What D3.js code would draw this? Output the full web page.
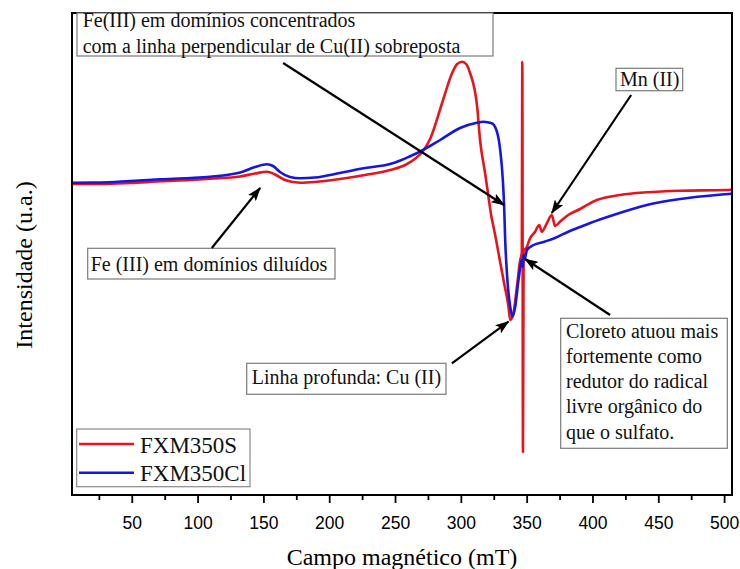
<!DOCTYPE html>
<html>
<head>
<meta charset="utf-8">
<script src="https://cdn.jsdelivr.net/npm/d3@7"></script>
<style>
  body { margin: 0; background: #fff; }
  svg { display: block; }
</style>
</head>
<body>
<div id="chart"></div>
<script>
/* EPR spectra, FXM350S vs FXM350Cl, with annotations. */
const seriesNames = ["FXM350S", "FXM350Cl"];

// campo magnético (mT) / intensidade (u.a.)
const fieldS = [4.6, 25.9, 48.7, 71.5, 94.3, 109.5, 132.3, 143.7, 152.8, 158.9, 166.5, 177.9, 189.2, 208.2,
  227.2, 246.2, 257.7, 265, 270, 276.7, 286.5, 293.4, 297.2, 301, 304, 307, 312.4, 314.6, 318.4, 321, 323,
  324.8, 326.8, 328.6, 332.4, 336.2, 337.5, 340, 342.6, 345.1, 346.3, 346.7, 347.2, 347.7, 349.6, 352.6,
  356.4, 359.6, 361.5, 365.3, 369.1, 371.6, 375.3, 381.6, 390.6, 403.3, 421, 441.3, 466.6, 500.8, 505.4];
const intS = [311, 311, 312, 313.7, 315, 316.3, 318.5, 321.5, 323.3, 320.5, 315, 312.3, 313, 316,
  320, 325, 330, 336, 342, 356, 395, 422, 431, 433.3, 431, 422, 388.3, 355, 322, 298.3, 280,
  268.3, 255, 242, 215, 188.3, 175, 182, 208.3, 235, 242, 433, 43, 245, 246.7, 256.7,
  263.3, 270, 263.3, 271.7, 280, 269, 273.3, 280, 286, 295, 300, 302.7, 304.3, 305, 305.3];

const fieldCl = [4.6, 25.9, 48.7, 71.5, 94.3, 109.5, 132.3, 143.7, 152.8, 157.3, 162.6, 170.2, 177.9, 189.2,
  208.2, 227.2, 246.2, 254, 261, 269.1, 284.3, 299.4, 312.1, 317.2, 323.5, 327.4, 329.9, 331.9, 332.9, 333.7,
  335, 337.5, 339.2, 341.3, 343.8, 346.4, 347, 347.6, 348.5, 350.2, 355.2, 363.5, 371.1, 381.6, 390.6,
  398.3, 416, 441.3, 466.6, 500.8, 505.4];
const intCl = [312.3, 312.5, 314, 315.7, 317, 318.3, 322.5, 328, 330.7, 329, 323, 318, 316.7, 317.5,
  322, 327, 331, 334.5, 338.5, 343.5, 355, 367, 372.3, 373.3, 371.7, 363.3, 345, 315, 288.3, 255,
  222, 188.3, 178.3, 188.3, 215, 235, 228, 240, 236, 245, 250, 253.3, 256.7, 263.3, 268,
  272, 280, 290, 296, 300.7, 301.2];

const xTicks = [50, 100, 150, 200, 250, 300, 350, 400, 450, 500];
const xMinor = [25, 75, 125, 175, 225, 275, 325, 375, 425, 475];

const noteTexts = [
  ["Fe(III) em domínios concentrados", "com a linha perpendicular de Cu(II) sobreposta"],
  ["Fe (III) em domínios diluídos"],
  ["Linha profunda: Cu (II)"],
  ["Cloreto atuou mais", "fortemente como", "redutor do radical", "livre orgânico do", "que o sulfato."],
  ["Mn (II)"]
];
// arrow start / tip in data units [mT, u.a.]
const arrowFrom = [[165, 432], [110.8, 247], [293.2, 131.7], [413.4, 180], [429.4, 400]];
const arrowTo = [[332.9, 290], [147.5, 307], [336.2, 173.3], [348.8, 236], [369.1, 282]];

(function () {
  const W = 740, Ht = 569;
  const m = { t: 13, r: 8, b: 74, l: 72 };
  const red = "#e8141c", blue = "#1616e0";
  const serif = "'Liberation Serif', 'Times New Roman', serif";
  const sans = "'Liberation Sans', Arial, sans-serif";

  const svg = d3.select("#chart").append("svg")
    .attr("width", W).attr("height", Ht).attr("viewBox", `0 0 ${W} ${Ht}`);

  const x = d3.scaleLinear().domain([4.6, 506]).range([m.l, W - m.r]);
  const y = d3.scaleLinear().domain([0, 482]).range([Ht - m.b, m.t]);

  svg.append("defs").append("marker")
    .attr("id", "arrow").attr("viewBox", "0 0 14 10")
    .attr("markerUnits", "userSpaceOnUse")
    .attr("markerWidth", 14).attr("markerHeight", 10)
    .attr("refX", 13).attr("refY", 5).attr("orient", "auto")
    .append("path").attr("d", "M0,0 L14,5 L0,10 L3,5 z").attr("fill", "#000");

  // curves
  const line = d3.line().x(d => x(d[0])).y(d => y(d[1])).curve(d3.curveMonotoneX);
  const sData = fieldS.map((f, i) => [f, intS[i]]);
  const clData = fieldCl.map((f, i) => [f, intCl[i]]);
  const plot = svg.append("g");
  plot.append("path").datum(sData).attr("d", line)
    .attr("fill", "none").attr("stroke", red).attr("stroke-width", 2.6).attr("stroke-linejoin", "round");
  plot.append("path").datum(clData).attr("d", line)
    .attr("fill", "none").attr("stroke", blue).attr("stroke-width", 2.6).attr("stroke-linejoin", "round");

  // frame
  svg.append("rect")
    .attr("x", x.range()[0]).attr("y", y.range()[1])
    .attr("width", x.range()[1] - x.range()[0]).attr("height", y.range()[0] - y.range()[1])
    .attr("fill", "none").attr("stroke", "#000").attr("stroke-width", 2);

  // bottom axis
  const xa = svg.append("g").attr("transform", `translate(0,${Ht - m.b})`)
    .call(d3.axisBottom(x).tickValues(xTicks).tickSize(8).tickPadding(14));
  xa.select(".domain").remove();
  xa.selectAll(".tick line").attr("stroke", "#000").attr("stroke-width", 1.8);
  xa.selectAll(".tick text").attr("fill", "#000").style("font-family", sans).style("font-size", "17.5px");
  const xm = svg.append("g").attr("transform", `translate(0,${Ht - m.b})`)
    .call(d3.axisBottom(x).tickValues(xMinor).tickSize(5).tickFormat(""));
  xm.select(".domain").remove();
  xm.selectAll(".tick line").attr("stroke", "#000").attr("stroke-width", 1.8);

  // axis titles
  svg.append("text").attr("x", (x.range()[0] + x.range()[1]) / 2).attr("y", 565)
    .attr("text-anchor", "middle").style("font-family", serif).style("font-size", "24px")
    .text("Campo magnético (mT)");
  svg.append("text").attr("transform", "translate(32,265) rotate(-90)")
    .attr("text-anchor", "middle").style("font-family", serif).style("font-size", "24px")
    .text("Intensidade (u.a.)");

  // annotation boxes (layout in px)
  const boxes = [
    { x0: 77, y0: 13, x1: 493, y1: 56, tx: 82.7, by: 27, lh: 26.3 },
    { x0: 87.7, y0: 248.3, x1: 335, y1: 279, tx: 90.7, by: 270.5, lh: 0 },
    { x0: 246.7, y0: 363.3, x1: 446, y1: 394.3, tx: 251.7, by: 384, lh: 0 },
    { x0: 560.7, y0: 318.3, x1: 727.3, y1: 448.3, tx: 566, by: 337.5, lh: 25.3 },
    { x0: 616, y0: 68.3, x1: 682.7, y1: 90.7, tx: 620, by: 86, lh: 0 }
  ];
  const notes = svg.append("g");
  noteTexts.forEach((lines, i) => {
    const b = boxes[i];
    notes.append("rect").attr("x", b.x0).attr("y", b.y0)
      .attr("width", b.x1 - b.x0).attr("height", b.y1 - b.y0)
      .attr("fill", "#fff").attr("stroke", "#7a7a7a").attr("stroke-width", 1.2);
    notes.selectAll(null).data(lines).join("text")
      .attr("x", b.tx).attr("y", (d, j) => b.by + j * b.lh)
      .style("font-family", serif).style("font-size", "20px").attr("fill", "#111")
      .text(d => d);
  });
  notes.selectAll("line.arrow").data(arrowFrom).join("line").attr("class", "arrow")
    .attr("x1", d => x(d[0])).attr("y1", d => y(d[1]))
    .attr("x2", (d, i) => x(arrowTo[i][0])).attr("y2", (d, i) => y(arrowTo[i][1]))
    .attr("stroke", "#000").attr("stroke-width", 2.2).attr("marker-end", "url(#arrow)");

  // legend
  const lg = svg.append("g");
  lg.append("rect").attr("x", 76.7).attr("y", 429).attr("width", 173.3).attr("height", 57.7)
    .attr("fill", "#fff").attr("stroke", "#8a8a8a").attr("stroke-width", 1.2);
  const colors = [red, blue];
  lg.selectAll("g").data(seriesNames).join("g")
    .attr("transform", (d, i) => `translate(0,${444 + i * 28.7})`)
    .each(function (d, i) {
      const g = d3.select(this);
      g.append("line").attr("x1", 79).attr("x2", 134).attr("y1", 0).attr("y2", 0)
        .attr("stroke", colors[i]).attr("stroke-width", 2.6);
      g.append("text").attr("x", 140).attr("y", 8.5)
        .style("font-family", serif).style("font-size", "23px").attr("fill", "#111").text(d);
    });
})();
</script>
</body>
</html>
